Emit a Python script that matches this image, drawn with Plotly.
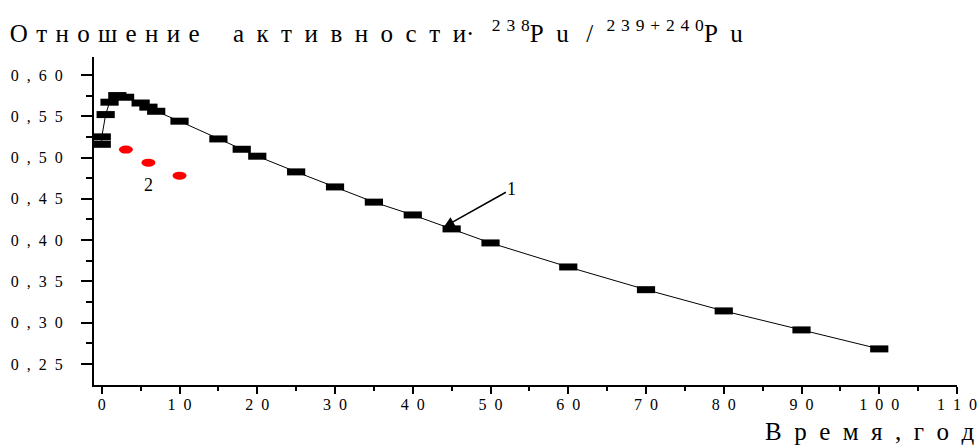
import plotly.graph_objects as go

# Curve 1 (black squares)
years_1 = [0, 0, 0.5, 1, 2, 3, 5, 6, 7, 10, 15, 18, 20, 25, 30, 35, 40, 45, 50, 60, 70, 80, 90, 100]
ratio_1 = [0.516, 0.525, 0.552, 0.567, 0.575, 0.573, 0.566, 0.561, 0.556, 0.544, 0.5225, 0.510,
           0.5016, 0.4826, 0.4644, 0.446, 0.4305, 0.4136, 0.3966, 0.3675, 0.340, 0.3143, 0.2913, 0.2683]

# Series 2 (red ellipses)
years_2 = [3.1, 6, 10]
ratio_2 = [0.5096, 0.4938, 0.478]

EN = "\u2002"   # en space
TP = "\u2004"   # three-per-em space
TH = "\u2009"   # thin space


def spaced(s, sep):
    return sep.join(s)


x_tickvals = [0, 10, 20, 30, 40, 50, 60, 70, 80, 90, 100, 110]
x_ticklabels = ["0", "10", "20", "30", "40", "50", "60", "70", "80", "90", "100", "110"]
y_tickvals = [0.25, 0.30, 0.35, 0.40, 0.45, 0.50, 0.55, 0.60]
y_ticklabels = ["0,25", "0,30", "0,35", "0,40", "0,45", "0,50", "0,55", "0,60"]
x_minor = [v + 5 for v in x_tickvals[:-1]]
y_minor = [round(v + 0.025, 3) for v in y_tickvals[:-1]]

title_word1 = "Отношение"
title_word2 = "активности"
xlabel_text = "Время,год"

x_ticktext = [spaced(t, EN) for t in x_ticklabels]
y_ticktext = [spaced(t, EN) for t in y_ticklabels]

title_text = (spaced(title_word1, TP) + EN * 2 + TP
              + spaced(title_word2, EN) + "·" + EN + TH
              + "<sup>" + spaced("238", TP) + "</sup>" + spaced("Pu", EN) + EN + TH + "/" + TP + TH
              + "<sup>" + spaced("239+240", TP) + "</sup>" + spaced("Pu", EN))
xlabel = spaced(xlabel_text, EN)

FONT = "Liberation Serif"

fig = go.Figure()
fig.add_trace(go.Scatter(
    x=years_1, y=ratio_1, mode="lines+markers",
    line=dict(color="black", width=1),
    marker=dict(symbol="line-ew", size=13, line=dict(color="black", width=7)),
    showlegend=False, hoverinfo="x+y"))

for xv, yv in zip(years_2, ratio_2):
    fig.add_shape(type="circle", xref="x", yref="y",
                  xsizemode="pixel", ysizemode="pixel",
                  xanchor=xv, yanchor=yv, x0=-7, x1=7, y0=-4, y1=4,
                  fillcolor="red", line=dict(width=0))

fig.update_layout(
    width=979, height=447,
    margin=dict(l=94, r=22, t=57, b=62),
    paper_bgcolor="white", plot_bgcolor="white",
    font=dict(family=FONT, size=16, color="black"),
    title=dict(text=title_text, x=0.01, xanchor="left", y=0.926, yanchor="middle",
               font=dict(family=FONT, size=25, color="black")),
    xaxis=dict(range=[-1, 110], tickvals=x_tickvals, ticktext=x_ticktext,
               automargin=False,
               showgrid=False, zeroline=False, showline=True, linecolor="black", linewidth=2,
               ticks="outside", ticklen=7, tickwidth=2, tickcolor="black",
               ticklabelstandoff=-3,
               minor=dict(tickvals=x_minor, ticks="outside", ticklen=4, tickwidth=2, tickcolor="black", showgrid=False),
               tickfont=dict(family=FONT, size=16)),
    yaxis=dict(range=[0.2246, 0.6217], tickvals=y_tickvals, ticktext=y_ticktext,
               automargin=False,
               showgrid=False, zeroline=False, showline=True, linecolor="black", linewidth=2,
               ticks="outside", ticklen=11, tickwidth=2, tickcolor="black",
               ticklabelstandoff=15,
               minor=dict(tickvals=y_minor, ticks="outside", ticklen=6, tickwidth=2, tickcolor="black", showgrid=False),
               tickfont=dict(family=FONT, size=16)),
    annotations=[
        dict(text=xlabel, xref="paper", yref="paper", x=1.0235, y=-0.143,
             xanchor="right", yanchor="middle", showarrow=False,
             font=dict(family=FONT, size=25)),
        dict(text="1", xref="x", yref="y", x=44.0, y=0.416, ax=68, ay=-38,
             showarrow=True, arrowhead=2, arrowsize=1.4, arrowwidth=1.5, arrowcolor="black",
             font=dict(family=FONT, size=18)),
        dict(text="2", xref="x", yref="y", x=6.0, y=0.4665, showarrow=False,
             font=dict(family=FONT, size=18)),
    ],
)

fig.write_html("out.html", config={"displayModeBar": False},
               post_script="document.body.style.margin='0';document.body.style.overflow='hidden';")
